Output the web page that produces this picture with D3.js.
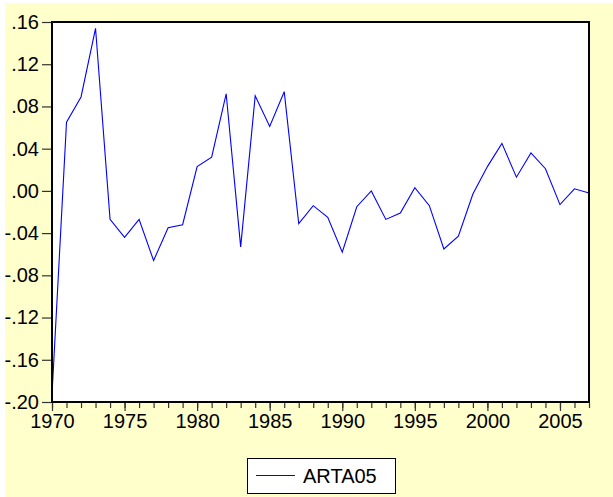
<!DOCTYPE html>
<html>
<head>
<meta charset="utf-8">
<script src="https://cdn.jsdelivr.net/npm/d3@7/dist/d3.min.js"></script>
<style>
  html, body { margin: 0; padding: 0; background: #ffffff; }
  svg { display: block; }
  text { font-family: "Liberation Sans", Arial, sans-serif; }
</style>
</head>
<body>
<script>
// ---- data ----
const years = [1970,1971,1972,1973,1974,1975,1976,1977,1978,1979,
               1980,1981,1982,1983,1984,1985,1986,1987,1988,1989,
               1990,1991,1992,1993,1994,1995,1996,1997,1998,1999,
               2000,2001,2002,2003,2004,2005,2006,2007];
const arta05 = [-0.193, 0.065, 0.089, 0.154, -0.027, -0.044, -0.027, -0.066, -0.035, -0.032,
                0.023, 0.032, 0.092, -0.053, 0.090, 0.061, 0.094, -0.031, -0.014, -0.025,
                -0.058, -0.015, 0.000, -0.027, -0.021, 0.003, -0.014, -0.055, -0.043, -0.003,
                0.023, 0.045, 0.013, 0.036, 0.021, -0.013, 0.002, -0.002];
const seriesName = "ARTA05";
const yTickValues = [0.16, 0.12, 0.08, 0.04, 0.00, -0.04, -0.08, -0.12, -0.16, -0.20];
const yTickLabels = [".16", ".12", ".08", ".04", ".00", "-.04", "-.08", "-.12", "-.16", "-.20"];
const xMajorTicks = [1970, 1975, 1980, 1985, 1990, 1995, 2000, 2005];
const xTickLabels = ["1970", "1975", "1980", "1985", "1990", "1995", "2000", "2005"];

// ---- layout ----
const W = 613, H = 497;
const L = 52, R = 589, T = 22, B = 402;

const svg = d3.select("body").append("svg").attr("width", W).attr("height", H);

svg.append("rect").attr("x", 0).attr("y", 0).attr("width", W).attr("height", H).attr("fill", "#FFFFCC");

const x = d3.scaleLinear().domain([1970, 2007]).range([L, R]);
const y = d3.scaleLinear().domain([-0.20, 0.16]).range([B, T]);

// plot area
svg.append("rect").attr("x", L).attr("y", T).attr("width", R - L).attr("height", B - T)
  .attr("fill", "#ffffff");

// line
const line = d3.line().x((d, i) => x(years[i])).y(d => y(d));
svg.append("path").datum(arta05)
  .attr("d", line).attr("fill", "none").attr("stroke", "#0000FF").attr("stroke-width", 1.1);

// frame
svg.append("rect").attr("x", L).attr("y", T).attr("width", R - L).attr("height", B - T)
  .attr("fill", "none").attr("stroke", "#000").attr("stroke-width", 2);

// y axis
const yAxis = d3.axisLeft(y).tickValues(yTickValues)
  .tickFormat((d, i) => yTickLabels[i]).tickSize(9).tickPadding(3);
const gy = svg.append("g").attr("transform", `translate(${L - 1},0)`).call(yAxis);
gy.select(".domain").remove();
gy.selectAll(".tick line").attr("stroke", "#333").attr("stroke-width", 1.2);
gy.selectAll(".tick text").attr("font-size", 20).attr("fill", "#000")
  .attr("font-family", "'Liberation Sans', Arial, sans-serif");

// x axis minor ticks (every year)
const xMinor = d3.axisBottom(x).tickValues(years).tickFormat("").tickSize(5);
const gxm = svg.append("g").attr("transform", `translate(0,${B + 1})`).call(xMinor);
gxm.select(".domain").remove();
gxm.selectAll(".tick line").attr("stroke", "#333").attr("stroke-width", 1.2);

// x axis major
const xAxis = d3.axisBottom(x).tickValues(xMajorTicks)
  .tickFormat((d, i) => xTickLabels[i]).tickSize(8).tickPadding(3);
const gx = svg.append("g").attr("transform", `translate(0,${B + 1})`).call(xAxis);
gx.select(".domain").remove();
gx.selectAll(".tick line").attr("stroke", "#333").attr("stroke-width", 1.2);
gx.selectAll(".tick text").attr("font-size", 20).attr("fill", "#000")
  .attr("font-family", "'Liberation Sans', Arial, sans-serif");

// white margins (edge of the reference image)
svg.append("rect").attr("x", 0).attr("y", 0).attr("width", 5).attr("height", H).attr("fill", "#ffffff");
svg.append("rect").attr("x", 0).attr("y", 0).attr("width", W).attr("height", 3).attr("fill", "#ffffff");

// legend
const lg = svg.append("g");
lg.append("rect").attr("x", 247.5).attr("y", 458.5).attr("width", 148).attr("height", 35)
  .attr("fill", "#ffffff").attr("stroke", "#000").attr("stroke-width", 1);
lg.append("line").attr("x1", 256).attr("x2", 295).attr("y1", 475.5).attr("y2", 475.5)
  .attr("stroke", "#0000FF").attr("stroke-width", 1.1);
lg.append("text").attr("x", 303).attr("y", 483).attr("font-size", 20).attr("fill", "#000")
  .text(seriesName);
</script>
</body>
</html>
